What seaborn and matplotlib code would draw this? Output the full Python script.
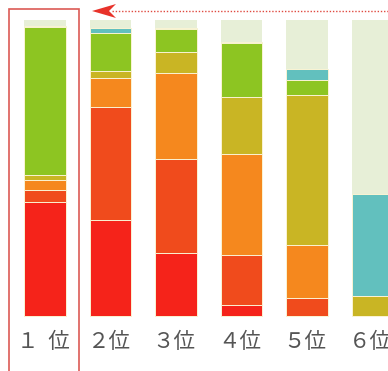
import numpy as np
import pandas as pd
import matplotlib
matplotlib.use("Agg")
import matplotlib.pyplot as plt
import seaborn as sns
from matplotlib.patches import Rectangle, Polygon

# ---- data (percent share of each segment, bottom -> top) ----
categories = ["1位", "2位", "3位", "4位", "5位", "6位"]
tick_labels = ["１  位", "２位", "３位", "４位", "５位", "６位"]
red        = [38.5, 32.4, 21.3,  3.7,  0.0,  0.0]
red_orange = [ 4.0, 38.2, 31.8, 16.9,  6.1,  0.0]
orange     = [ 3.4,  9.8, 29.0, 34.1, 17.9,  0.0]
olive      = [ 1.7,  2.4,  7.1, 19.3, 50.7,  6.8]
green      = [50.0, 12.8,  7.8, 18.2,  5.1,  0.0]
teal       = [ 0.3,  1.7,  0.3,  0.3,  3.7, 34.5]
light      = [ 2.1,  2.7,  2.7,  7.5, 16.5, 58.7]

series_names = ["red", "red_orange", "orange", "olive", "green", "teal", "light"]
series_vals = [red, red_orange, orange, olive, green, teal, light]
colors = ["#f5231a", "#f04b1c", "#f5881e", "#c9b524", "#8dc522", "#62c0be", "#e7efd7"]

df = pd.DataFrame({n: v for n, v in zip(series_names, series_vals)}, index=categories)
cum = df.cumsum(axis=1)

sns.set_theme(style="white")
plt.rcParams["font.family"] = ["Noto Sans CJK JP", "DejaVu Sans"]

W, H = 388, 371
fig = plt.figure(figsize=(W / 100, H / 100), dpi=100)
ax = fig.add_axes([0, 0, 1, 1])

# pixel helpers for layout
def px_x(p):
    return (p - 45) / 65.5

def px_y(p):
    return (316 - p) / 2.96

# stacked bars: draw cumulative totals from top layer down
for name, col in reversed(list(zip(series_names, colors))):
    lw = 0 if name == "light" else 0.7
    sns.barplot(x=categories, y=cum[name].values, order=categories,
                color=col, saturation=1, width=0.626,
                edgecolor="#fbf4d4", linewidth=lw, ax=ax)

ax.set_xlim(px_x(0), px_x(W))
ax.set_ylim(px_y(H), px_y(0))
ax.axis("off")

# category labels
for i, lab in enumerate(tick_labels):
    ax.text(i - 0.03, px_y(342), lab, ha="center", va="center", fontsize=15.5,
            color="#555555")

# highlight box around first bar
ax.add_patch(Rectangle((px_x(9), px_y(373)), px_x(79) - px_x(9),
                       px_y(9) - px_y(373), fill=False,
                       edgecolor="#dc5a55", linewidth=1.2, clip_on=False))

# dotted arrow at top
ax.plot([px_x(112), px_x(392)], [px_y(11), px_y(11)], color="#e04a40",
        linestyle=(0, (1, 1.3)), linewidth=1.0, clip_on=False)
ax.add_patch(Polygon([(px_x(92), px_y(11)), (px_x(116), px_y(4)),
                      (px_x(109), px_y(11)), (px_x(116), px_y(18))],
                     closed=True, facecolor="#e8322a", edgecolor="none"))

fig.savefig("out.png", dpi=100, facecolor="white")
